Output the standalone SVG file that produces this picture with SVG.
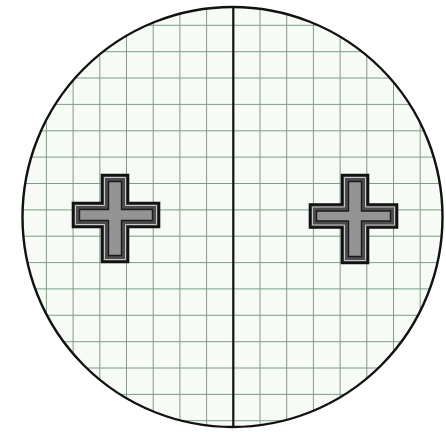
<svg xmlns="http://www.w3.org/2000/svg" width="446" height="432" viewBox="0 0 446 432">
<style>
.grid line{stroke:#7f9c86;stroke-width:1}
.xo{fill:#4d4d4d;stroke:#111;stroke-width:2.6}
.xl{fill:none;stroke:#c8c8c8;stroke-width:1}
.xi{fill:#949494;stroke:#1a1a1a;stroke-width:1.4}
</style>
<defs>
<clipPath id="c"><circle cx="232.5" cy="217" r="210"/></clipPath>
</defs>
<rect width="446" height="432" fill="#ffffff"/>
<circle cx="232.5" cy="217" r="210" fill="#f6fbf6"/>
<g class="grid" clip-path="url(#c)">
<line x1="19.7" y1="0" x2="19.7" y2="432"/>
<line x1="46.4" y1="0" x2="46.4" y2="432"/>
<line x1="73.1" y1="0" x2="73.1" y2="432"/>
<line x1="99.8" y1="0" x2="99.8" y2="432"/>
<line x1="126.5" y1="0" x2="126.5" y2="432"/>
<line x1="153.2" y1="0" x2="153.2" y2="432"/>
<line x1="179.9" y1="0" x2="179.9" y2="432"/>
<line x1="206.6" y1="0" x2="206.6" y2="432"/>
<line x1="260" y1="0" x2="260" y2="432"/>
<line x1="286.7" y1="0" x2="286.7" y2="432"/>
<line x1="313.4" y1="0" x2="313.4" y2="432"/>
<line x1="340.1" y1="0" x2="340.1" y2="432"/>
<line x1="366.8" y1="0" x2="366.8" y2="432"/>
<line x1="393.5" y1="0" x2="393.5" y2="432"/>
<line x1="420.2" y1="0" x2="420.2" y2="432"/>
<line x1="0" y1="25.3" x2="446" y2="25.3"/>
<line x1="0" y1="51.7" x2="446" y2="51.7"/>
<line x1="0" y1="78" x2="446" y2="78"/>
<line x1="0" y1="104.4" x2="446" y2="104.4"/>
<line x1="0" y1="130.8" x2="446" y2="130.8"/>
<line x1="0" y1="157.1" x2="446" y2="157.1"/>
<line x1="0" y1="183.5" x2="446" y2="183.5"/>
<line x1="0" y1="209.9" x2="446" y2="209.9"/>
<line x1="0" y1="236.2" x2="446" y2="236.2"/>
<line x1="0" y1="262.6" x2="446" y2="262.6"/>
<line x1="0" y1="288.9" x2="446" y2="288.9"/>
<line x1="0" y1="315.3" x2="446" y2="315.3"/>
<line x1="0" y1="341.7" x2="446" y2="341.7"/>
<line x1="0" y1="368" x2="446" y2="368"/>
<line x1="0" y1="394.4" x2="446" y2="394.4"/>
<line x1="0" y1="420.7" x2="446" y2="420.7"/>
</g>
<line x1="233.3" y1="0" x2="233.3" y2="432" stroke="#111" stroke-width="2.2" clip-path="url(#c)"/>
<circle cx="232.5" cy="217" r="210" fill="none" stroke="#111" stroke-width="2.4"/>
<g id="cross-left">
<path class="xo" d="M102,175 H128 V203 H159 V227 H128 V262 H102 V227 H73 V203 H102 Z"/>
<path class="xl" d="M104.5,177.5 H125.5 V205.5 H156.5 V224.5 H125.5 V259.5 H104.5 V224.5 H75.5 V205.5 H104.5 Z"/>
<path class="xi" d="M108.5,181.5 H121.5 V209.5 H152.5 V220.5 H121.5 V255.5 H108.5 V220.5 H79.5 V209.5 H108.5 Z"/>
</g>
<g id="cross-right">
<path class="xo" d="M342,175 H368 V204.5 H397 V227.5 H368 V263 H342 V227.5 H310 V204.5 H342 Z"/>
<path class="xl" d="M344.5,177.5 H365.5 V207 H394.5 V225 H365.5 V260.5 H344.5 V225 H312.5 V207 H344.5 Z"/>
<path class="xi" d="M348.5,181.5 H361.5 V211 H390.5 V221 H361.5 V256.5 H348.5 V221 H316.5 V211 H348.5 Z"/>
</g>
</svg>
